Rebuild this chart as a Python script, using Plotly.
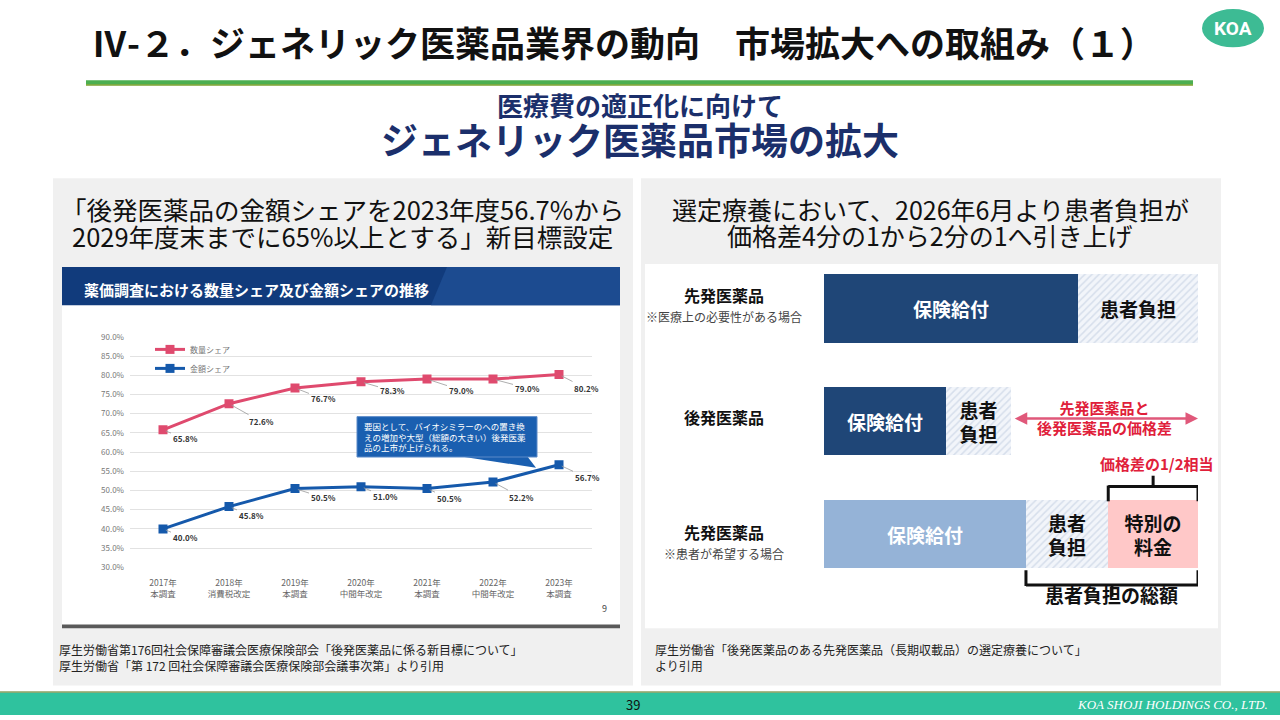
import plotly.graph_objects as go

# ---------------- data ----------------
years = ["2017年", "2018年", "2019年", "2020年", "2021年", "2022年", "2023年"]
surveys = ["本調査", "消費税改定", "本調査", "中間年改定", "本調査", "中間年改定", "本調査"]
volume_share = [65.8, 72.6, 76.7, 78.3, 79.0, 79.0, 80.2]   # 数量シェア (%)
value_share = [40.0, 45.8, 50.5, 51.0, 50.5, 52.2, 56.7]    # 金額シェア (%)
share_ticks = [30, 35, 40, 45, 50, 55, 60, 65, 70, 75, 80, 85, 90]

rows = ["先発医薬品（医療上必要）", "後発医薬品", "先発医薬品（患者希望）"]
insurance_part = [68.0, 32.5, 54.0]   # 保険給付
copay_part = [32.0, 17.5, 22.0]       # 患者負担
special_fee = [0.0, 0.0, 24.0]        # 特別の料金

# ---------------- helpers / styles ----------------
W, H = 1280, 720
FONT = "Noto Sans CJK JP"
NAVY = "#1b2f6b"
RED = "#e0203a"


def px(x):
    return x / W


def py(y):
    return 1 - y / H


vol_label_offsets = [(22, 9), (32, 18), (28, 11), (31, 9), (34, 11), (34, 9), (27, 14)]
val_label_offsets = [(22, 9), (22, 9), (28, 9), (24, 10), (22, 10), (28, 15), (28, 13)]

fig = go.Figure()

# ---------------- left line chart ----------------
fig.add_trace(go.Scatter(
    x=years, y=volume_share, name="数量シェア", mode="lines+markers",
    line=dict(color="#df4a6e", width=3),
    marker=dict(symbol="square", size=9, color="#df4a6e"),
    xaxis="x", yaxis="y", hoverinfo="skip"))
fig.add_trace(go.Scatter(
    x=years, y=value_share, name="金額シェア", mode="lines+markers",
    line=dict(color="#1559ab", width=3),
    marker=dict(symbol="square", size=9, color="#1559ab"),
    xaxis="x", yaxis="y", hoverinfo="skip"))

# ---------------- right diagram (stacked bars) ----------------
fig.add_trace(go.Bar(
    y=rows, x=insurance_part, orientation="h", xaxis="x2", yaxis="y2",
    width=0.607, showlegend=False, hoverinfo="skip",
    marker=dict(color=["#1f4677", "#1f4677", "#95b3d7"], line=dict(width=0)),
    text=["<b>保険給付</b>"] * 3, textposition="inside", insidetextanchor="middle",
    textfont=dict(family=FONT, size=19, color="white"), constraintext="none"))
fig.add_trace(go.Bar(
    y=rows, x=copay_part, orientation="h", xaxis="x2", yaxis="y2",
    width=0.607, showlegend=False, hoverinfo="skip",
    marker=dict(color="#eef2f8", line=dict(width=0),
                pattern=dict(shape="/", fgcolor="#b9c8dc", bgcolor="#f2f5fa", size=5, solidity=0.3)),
    text=["<b>患者負担</b>", "<b>患者<br>負担</b>", "<b>患者<br>負担</b>"],
    textposition="inside", insidetextanchor="middle",
    textfont=dict(family=FONT, size=19, color="#111111"), constraintext="none"))
fig.add_trace(go.Bar(
    y=rows, x=special_fee, orientation="h", xaxis="x2", yaxis="y2",
    width=0.607, showlegend=False, hoverinfo="skip",
    marker=dict(color="#ffc8c8", line=dict(width=0)),
    text=["", "", "<b>特別の<br>料金</b>"], textposition="inside", insidetextanchor="middle",
    textfont=dict(family=FONT, size=19, color="#111111"), constraintext="none"))

shapes = []
annotations = []


def rect(x0, y0, x1, y1, color, layer="below", line=None):
    shapes.append(dict(type="rect", xref="paper", yref="paper",
                       x0=px(x0), x1=px(x1), y0=py(y1), y1=py(y0),
                       fillcolor=color, line=line or dict(width=0), layer=layer))


def text(x, y, s, size, color="#000", bold=False, anchor="center", family=FONT, **kw):
    annotations.append(dict(xref="paper", yref="paper", x=px(x), y=py(y),
                            text=(f"<b>{s}</b>" if bold else s), showarrow=False,
                            xanchor=anchor, yanchor="middle",
                            font=dict(family=family, size=size, color=color), **kw))


# header
shapes.append(dict(type="circle", xref="paper", yref="paper",
                   x0=px(1202), x1=px(1264), y0=py(42), y1=py(3),
                   fillcolor="#3dbb94", line=dict(width=0)))
text(1233, 23, "KOA", 19, "white", bold=True, family="Roboto")
text(623, 36, "Ⅳ-２．ジェネリック医薬品業界の動向　市場拡大への取組み（１）", 35, "#111", bold=True)
rect(86, 75.5, 1193, 80.5, "#4caf50")
rect(86, 79.5, 1193, 81, "#8aa83c")
text(640, 100, "医療費の適正化に向けて", 26, NAVY, bold=True)
text(640, 135, "ジェネリック医薬品市場の拡大", 37, NAVY, bold=True)

# panels
rect(53, 175, 633, 690, "#f0f0f0")
rect(641, 175, 1221, 690, "#f0f0f0")
rect(62, 265, 620, 630, "white")
rect(62, 628, 620, 632, "#5a5a5a")
rect(645, 262, 1218, 632, "white")

# left panel headline
text(342, 206, "「後発医薬品の金額シェアを2023年度56.7%から", 25.5, "#111")
text(342, 233, "2029年度末までに65%以上とする」新目標設定", 25.5, "#111")
# right panel headline
text(930, 206, "選定療養において、2026年6月より患者負担が", 25, "#111")
text(930, 233, "価格差4分の1から2分の1へ引き上げ", 25, "#111")

# chart header band
rect(62, 265, 620, 304, "#113b7c")
shapes.append(dict(type="path", xref="paper", yref="paper",
                   path=f"M {px(447)} {py(265)} L {px(620)} {py(265)} L {px(620)} {py(304)} L {px(431)} {py(304)} Z",
                   fillcolor="#1c4b90", line=dict(width=0), layer="below"))
text(82, 288, "薬価調査における数量シェア及び金額シェアの推移", 15, "white", bold=True, anchor="left")
text(604, 612, "9", 9, "#444")

# data labels
for i, yr in enumerate(years):
    for vals, offs in ((volume_share, vol_label_offsets), (value_share, val_label_offsets)):
        dx, dy = offs[i]
        annotations.append(dict(xref="x", yref="y", x=yr, y=vals[i], ax=dx, ay=dy,
                                text=f"<b>{vals[i]:.1f}%</b>", showarrow=True, arrowhead=0,
                                arrowwidth=0.8, arrowcolor="#999", standoff=3,
                                font=dict(family=FONT, size=8, color="#333")))

# callout
shapes.append(dict(type="path", xref="paper", yref="paper",
                   path=f"M {px(458)} {py(457)} L {px(527)} {py(457)} L {px(536)} {py(469)} Z",
                   fillcolor="#1a5fb0", line=dict(width=0), layer="above"))
rect(357, 417, 537, 458, "#1a5fb0", layer="above", line=dict(color="#5a8ac8", width=1))
text(362, 427, "要因として、バイオシミラーのへの置き換", 8.5, "white", anchor="left")
text(362, 437.5, "えの増加や大型（総額の大きい）後発医薬", 8.5, "white", anchor="left")
text(362, 448, "品の上市が上げられる。", 8.5, "white", anchor="left")

# right diagram labels
text(724, 293, "先発医薬品", 16, "#111", bold=True)
text(724, 315, "※医療上の必要性がある場合", 12, "#444")
text(724, 417, "後発医薬品", 16, "#111", bold=True)
text(724, 534, "先発医薬品", 16, "#111", bold=True)
text(724, 556, "※患者が希望する場合", 12, "#444")

# red price-difference arrow
generic_total = insurance_part[1] + copay_part[1]
brand_total = insurance_part[0] + copay_part[0]
annotations.append(dict(xref="x2", yref="paper", x=brand_total, y=py(419),
                        axref="x2", ayref="pixel", ax=generic_total + 0.6, ay=0,
                        text="", showarrow=True, arrowside="end+start", arrowhead=2,
                        arrowsize=1, arrowwidth=2.5, arrowcolor="#e0587a"))
annotations.append(dict(xref="x2", yref="paper", x=(generic_total + brand_total) / 2, y=py(418),
                        text="<b>先発医薬品と<br>後発医薬品の価格差</b>", showarrow=False,
                        font=dict(family=FONT, size=15, color=RED)))

# brackets
b_start = insurance_part[2]
s_start = insurance_part[2] + copay_part[2]
b_end = s_start + special_fee[2]


def seg(x0, y0, x1, y1):
    shapes.append(dict(type="line", xref="x2", yref="paper", x0=x0, x1=x1, y0=py(y0), y1=py(y1),
                       line=dict(color="#111", width=3), layer="above"))


seg(s_start, 488, b_end, 488)
seg(s_start, 487, s_start, 503)
seg(b_end, 487, b_end, 503)
seg((s_start + b_end) / 2, 477, (s_start + b_end) / 2, 488)
seg(b_start, 588, b_end, 588)
seg(b_start, 573, b_start, 589)
seg(b_end, 573, b_end, 589)
seg((b_start + b_end) / 2, 588, (b_start + b_end) / 2, 600)
annotations.append(dict(xref="x2", yref="paper", x=(s_start + b_end) / 2 + 1, y=py(465),
                        text="<b>価格差の1/2相当</b>", showarrow=False,
                        font=dict(family=FONT, size=15, color=RED)))
annotations.append(dict(xref="x2", yref="paper", x=(b_start + b_end) / 2, y=py(613),
                        text="<b>患者負担の総額</b>", showarrow=False,
                        font=dict(family=FONT, size=19, color="#111")))

# sources
text(57, 653, "厚生労働省第176回社会保障審議会医療保険部会「後発医薬品に係る新目標について」", 12, "#222", anchor="left")
text(57, 670, "厚生労働省「第 172 回社会保障審議会医療保険部会議事次第」より引用", 12, "#222", anchor="left")
text(653, 653, "厚生労働省「後発医薬品のある先発医薬品（長期収載品）の選定療養について」", 12, "#222", anchor="left")
text(653, 670, "より引用", 12, "#222", anchor="left")

# footer
rect(0, 697, 1280, 720, "#2fc29e")
rect(0, 696, 1280, 697.5, "#8da060")
text(633, 709, "39", 13, "#111")
text(1270, 709, "<i>KOA SHOJI HOLDINGS CO., LTD.</i>", 13, "white", anchor="right", family="Liberation Serif")

fig.update_layout(
    width=W, height=H, margin=dict(l=0, r=0, t=0, b=0), autosize=False,
    paper_bgcolor="white", plot_bgcolor="rgba(0,0,0,0)",
    font=dict(family=FONT),
    barmode="stack", bargap=0,
    shapes=shapes, annotations=annotations,
    showlegend=True,
    legend=dict(x=px(150), y=py(334), xanchor="left", yanchor="top", traceorder="normal",
                font=dict(family=FONT, size=8, color="#777"), itemwidth=30,
                bgcolor="rgba(0,0,0,0)", tracegroupgap=0),
    xaxis=dict(domain=[px(130), px(592)], range=[-0.5, 6.5], type="category",
               tickvals=years, ticktext=[f"{y}<br>{s}" for y, s in zip(years, surveys)],
               tickfont=dict(size=8.5, color="#666"), showgrid=False, zeroline=False,
               showline=False, ticks="", ticklabelstandoff=9, fixedrange=True),
    yaxis=dict(domain=[py(570), py(336)], range=[30, 90], tickvals=share_ticks,
               ticktext=[f"{v:.1f}%" for v in share_ticks],
               tickfont=dict(size=8, color="#777"), gridcolor="#e2e2e2", gridwidth=1,
               zeroline=False, showline=False, ticks="", ticklabelstandoff=5, fixedrange=True),
    xaxis2=dict(domain=[px(824), px(1198)], range=[0, 100], visible=False, anchor="y2",
                fixedrange=True),
    yaxis2=dict(domain=[py(593.75), py(250.25)], categoryorder="array", categoryarray=rows,
                range=[2.5, -0.5], visible=False, anchor="x2", fixedrange=True),
)

fig.write_html("out.html", config={"displayModeBar": False},
               post_script="document.body.style.margin='0';document.body.style.overflow='hidden';")
